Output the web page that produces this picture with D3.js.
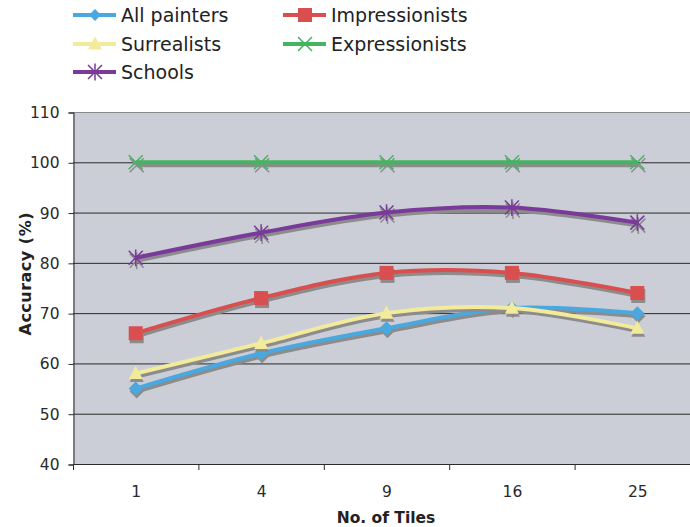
<!DOCTYPE html>
<html><head><meta charset="utf-8">
<script src="https://cdn.jsdelivr.net/npm/d3@7"></script>
<style>body{margin:0;background:#fff}svg{display:block}</style>
</head><body>
<svg id="c" width="690" height="527"></svg>
<script>
const categories = ["1", "4", "9", "16", "25"];
const yTicks = [40, 50, 60, 70, 80, 90, 100, 110];
const seriesNames = ["All painters", "Impressionists", "Surrealists", "Expressionists", "Schools"];
const allPainters = [55, 62, 67, 71, 70];
const impressionists = [66, 73, 78, 78, 74];
const surrealists = [58, 64, 70, 71, 67];
const expressionists = [100, 100, 100, 100, 100];
const schools = [81, 86, 90, 91, 88];
const colors = ["#4aa8e0", "#d94f4f", "#f3eb9c", "#45b461", "#7a3a9a"];
const markers = ["diamond", "square", "triangle", "x", "star"];

const seriesValues = [allPainters, impressionists, surrealists, expressionists, schools];
const series = seriesNames.map((n, i) => ({name: n, values: seriesValues[i], color: colors[i], marker: markers[i]}));

const FONT = "DejaVu Sans, Verdana, sans-serif";
const svg = d3.select("#c");
const pL = 73, pR = 700, pT = 112, pB = 464;
const x = d3.scaleBand().domain(categories).range([pL, pR]);
const y = d3.scaleLinear().domain([40, 110]).range([pB, pT]);

svg.append("rect").attr("x", pL).attr("y", pT).attr("width", pR - pL).attr("height", pB - pT).attr("fill", "#cbced6");

// gridlines
svg.append("g").selectAll("line").data(yTicks.filter(t => t > 40)).join("line")
  .attr("x1", pL).attr("x2", pR).attr("y1", d => y(d) + 0.5).attr("y2", d => y(d) + 0.5)
  .attr("stroke", d => d === 110 ? "#8a8a8a" : "#2a2a2a").attr("stroke-width", 1);

// axes
const yAxis = svg.append("g").attr("transform", `translate(${pL + 0.5},0.5)`)
  .call(d3.axisLeft(y).tickValues(yTicks).tickSize(5).tickPadding(9).tickFormat(d3.format("d")));
const xAxis = svg.append("g").attr("transform", `translate(0.5,${pB + 0.5})`)
  .call(d3.axisBottom(x).tickSize(0).tickPadding(21));
svg.append("g").selectAll("line").data(categories.map(c => x(c)).concat([pR])).join("line")
  .attr("x1", d => d + 0.5).attr("x2", d => d + 0.5).attr("y1", pB).attr("y2", pB + 6)
  .attr("stroke", "#2a2a2a");
[yAxis, xAxis].forEach(g => {
  g.select(".domain").attr("stroke", "#2a2a2a");
  g.selectAll(".tick line").attr("stroke", "#2a2a2a");
  g.selectAll("text").attr("font-family", FONT).attr("font-size", 15.5).attr("fill", "#2a2a2a");
});
xAxis.select(".domain").attr("d", `M${pL},0H${pR}`);

svg.append("text").attr("x", 386).attr("y", 523).attr("text-anchor", "middle")
  .attr("font-family", FONT).attr("font-weight", "bold").attr("font-size", 15.5).attr("fill", "#222")
  .text("No. of Tiles");
svg.append("text").attr("transform", "translate(31,274) rotate(-90)").attr("text-anchor", "middle")
  .attr("font-family", FONT).attr("font-weight", "bold").attr("font-size", 16).attr("fill", "#222")
  .attr("textLength", 123).attr("lengthAdjust", "spacing")
  .text("Accuracy (%)");

function markerPath(type, s) {
  switch (type) {
    case "diamond": return `M0,${-s}L${s},0L0,${s}L${-s},0Z`;
    case "square": return `M${-s},${-s}H${s}V${s}H${-s}Z`;
    case "triangle": return `M0,${-s * 1.1}L${s},${s * 0.8}L${-s},${s * 0.8}Z`;
    case "x": return `M${-s},${-s}L${s},${s}M${-s},${s}L${s},${-s}`;
    case "star": return `M${-s},${-s}L${s},${s}M${-s},${s}L${s},${-s}M0,${-s * 1.2}V${s * 1.2}`;
  }
}
function drawMarker(g, type, color, cx, cy, size) {
  const filled = type !== "x" && type !== "star";
  g.append("path").attr("d", markerPath(type, size))
    .attr("transform", `translate(${cx},${cy})`)
    .attr("fill", filled ? color : "none")
    .attr("stroke", color).attr("stroke-width", filled ? 0 : 1.5);
}

const line = d3.line().x((d, i) => x(categories[i]) + x.bandwidth() / 2).y(d => y(d)).curve(d3.curveCardinal.tension(0));
const plot = svg.append("g");
series.forEach(s => {
  plot.append("path").attr("d", line(s.values)).attr("fill", "none").attr("stroke", "#8c8c8c").attr("stroke-width", 4)
    .attr("transform", "translate(1,3)");
  s.values.forEach((v, i) => {
    drawMarker(plot, s.marker, "#8c8c8c", x(categories[i]) + x.bandwidth() / 2 + 1, y(v) + 3, 7);
  });
  plot.append("path").attr("d", line(s.values)).attr("fill", "none").attr("stroke", s.color).attr("stroke-width", 4);
  s.values.forEach((v, i) => {
    drawMarker(plot, s.marker, s.color, x(categories[i]) + x.bandwidth() / 2, y(v), 7);
  });
});

// legend
const legendPos = [[73, 15], [283, 15], [73, 44], [283, 44], [73, 72]];
const leg = svg.append("g");
series.forEach((s, k) => {
  const [lx, ly] = legendPos[k];
  leg.append("line").attr("x1", lx).attr("x2", lx + 43).attr("y1", ly).attr("y2", ly).attr("stroke", s.color).attr("stroke-width", 4);
  drawMarker(leg, s.marker, s.color, lx + 22, ly, s.marker === "diamond" ? 6 : 7);
  leg.append("text").attr("x", lx + 48).attr("y", ly + 7).attr("font-family", FONT)
    .attr("font-size", 19).attr("fill", "#222").text(s.name);
});
</script>
</body></html>
